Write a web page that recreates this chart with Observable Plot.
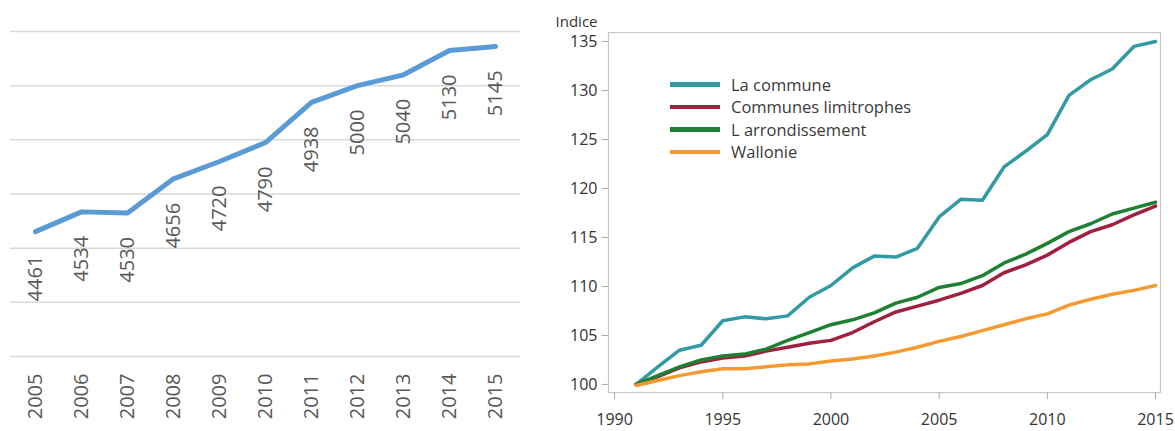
<!DOCTYPE html>
<html>
<head>
<meta charset="utf-8">
<script src="https://cdn.jsdelivr.net/npm/d3@7"></script>
<script src="https://cdn.jsdelivr.net/npm/@observablehq/plot@0.6"></script>
<style>
  html, body { margin: 0; padding: 0; background: #fff; }
  #wrap { position: relative; width: 1175px; height: 431px; overflow: hidden; font-family: "Open Sans", sans-serif; }
  #left { position: absolute; left: 0; top: 0; }
  #right { position: absolute; left: 540px; top: 0; }
  #legend { position: absolute; left: 670px; top: 73px; font-family: "Open Sans", sans-serif; font-size: 16.5px; color: #3a3a3a; }
  #legend .row { display: flex; align-items: center; height: 22.5px; }
  #legend .sw { width: 50px; height: 4.5px; margin-right: 11px; }
</style>
</head>
<body>
<div id="wrap">
  <div id="left"></div>
  <div id="right"></div>
  <div id="legend"></div>
</div>
<script>
// ---- Left chart data ----
const leftYears = [2005, 2006, 2007, 2008, 2009, 2010, 2011, 2012, 2013, 2014, 2015];
const leftValues = [4461, 4534, 4530, 4656, 4720, 4790, 4938, 5000, 5040, 5130, 5145];
const leftGrid = [4000, 4200, 4400, 4600, 4800, 5000, 5200];

// ---- Right chart data ----
const rightYears = [1991, 1992, 1993, 1994, 1995, 1996, 1997, 1998, 1999, 2000, 2001, 2002, 2003,
                    2004, 2005, 2006, 2007, 2008, 2009, 2010, 2011, 2012, 2013, 2014, 2015];
const laCommune = [100, 101.8, 103.5, 104.0, 106.5, 106.9, 106.7, 107.0, 108.9, 110.1, 111.9, 113.1, 113.0,
                   113.9, 117.1, 118.9, 118.8, 122.2, 123.8, 125.5, 129.5, 131.1, 132.2, 134.5, 135.0];
const communesLimitrophes = [100, 100.8, 101.7, 102.3, 102.7, 102.9, 103.4, 103.8, 104.2, 104.5, 105.3, 106.4, 107.4,
                   108.0, 108.6, 109.3, 110.1, 111.4, 112.2, 113.2, 114.5, 115.6, 116.3, 117.3, 118.2];
const arrondissement = [100, 100.9, 101.8, 102.5, 102.9, 103.1, 103.6, 104.5, 105.3, 106.1, 106.6, 107.3, 108.3,
                   108.9, 109.9, 110.3, 111.1, 112.4, 113.3, 114.4, 115.6, 116.4, 117.4, 118.0, 118.6];
const wallonie = [99.9, 100.4, 100.9, 101.3, 101.6, 101.6, 101.8, 102.0, 102.1, 102.4, 102.6, 102.9, 103.3,
                   103.8, 104.4, 104.9, 105.5, 106.1, 106.7, 107.2, 108.1, 108.7, 109.2, 109.6, 110.1];
const seriesNames = ["La commune", "Communes limitrophes", "L arrondissement", "Wallonie"];
const seriesValues = [laCommune, communesLimitrophes, arrondissement, wallonie];
const seriesColors = ["#339aa4", "#a0213f", "#1f7f33", "#f59a33"];
const xTicks = [1990, 1995, 2000, 2005, 2010, 2015];
const yTicks = [100, 105, 110, 115, 120, 125, 130, 135];
const yTitle = "Indice";

// ---- Left chart ----
const leftData = leftYears.map((y, i) => ({year: y, value: leftValues[i]}));
const leftPlot = Plot.plot({
  width: 540, height: 431,
  marginLeft: 10, marginRight: 20, marginTop: 31, marginBottom: 75,
  style: {fontFamily: "Open Sans, sans-serif", background: "transparent"},
  x: {type: "point", domain: leftYears, padding: 0.5},
  y: {domain: [4000, 5200], axis: null},
  marks: [
    Plot.ruleY(leftGrid, {stroke: "#d9d9d9", strokeWidth: 1.5}),
    Plot.lineY(leftData, {x: "year", y: "value", stroke: "#5b9bd5", strokeWidth: 5, strokeLinejoin: "round", strokeLinecap: "round"}),
    Plot.text(leftData, {x: "year", y: "value", text: d => String(d.value), rotate: -90,
      textAnchor: "end", lineAnchor: "middle", dy: 24, fontSize: 20, fill: "#595959"}),
    Plot.axisX({tickRotate: -90, tickSize: 0, tickPadding: 17, fontSize: 20, fill: "#595959", label: null, tickFormat: d => String(d)})
  ]
});
document.getElementById("left").appendChild(leftPlot);

// ---- Right chart ----
const rightData = [];
seriesNames.forEach((name, s) => {
  rightYears.forEach((yr, i) => rightData.push({series: name, year: yr, value: seriesValues[s][i]}));
});
const rightPlot = Plot.plot({
  width: 635, height: 431,
  marginLeft: 68, marginRight: 15, marginTop: 32, marginBottom: 39,
  style: {fontFamily: "Open Sans, sans-serif", background: "transparent"},
  x: {domain: [1989.72, 2015.23]},
  y: {domain: [99.18, 135.92]},
  color: {domain: seriesNames, range: seriesColors},
  marks: [
    Plot.frame({stroke: "#c8c8c8", strokeWidth: 1.2}),
    Plot.axisY({ticks: yTicks, tickSize: 6, tickPadding: 5, fontSize: 16, fill: "#333", stroke: "#aaa", label: null}),
    Plot.text([yTitle], {frameAnchor: "top-left", textAnchor: "end", lineAnchor: "bottom", dx: -11, dy: -6, fontSize: 15, fill: "#333"}),
    Plot.axisX({ticks: xTicks, tickSize: 7, tickPadding: 14, fontSize: 16, fill: "#333", stroke: "#aaa",
      tickFormat: d => String(d), label: null}),
    Plot.lineY(rightData, {x: "year", y: "value", z: "series", stroke: "series", strokeWidth: 3.5, strokeLinejoin: "round"})
  ]
});
document.getElementById("right").appendChild(rightPlot);

// ---- Legend ----
const legend = document.getElementById("legend");
seriesNames.forEach((name, i) => {
  const row = document.createElement("div");
  row.className = "row";
  const sw = document.createElement("div");
  sw.className = "sw";
  sw.style.background = seriesColors[i];
  const t = document.createElement("span");
  t.textContent = name;
  row.appendChild(sw);
  row.appendChild(t);
  legend.appendChild(row);
});
</script>
</body>
</html>
